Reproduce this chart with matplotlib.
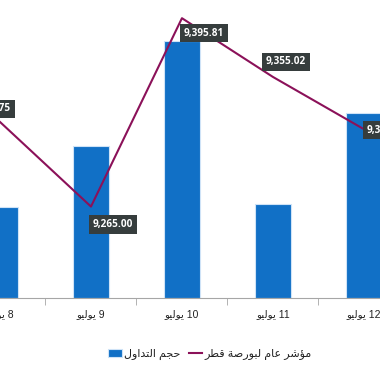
import matplotlib
matplotlib.use("Agg")
import matplotlib.pyplot as plt
from matplotlib.ticker import FixedLocator

# data
days = [8, 9, 10, 11, 12]
volume = [9.1, 15.2, 25.7, 9.4, 18.5]
index_vals = [9323.75, 9265.00, 9395.81, 9355.02, 9318.74]
label_offsets = [(-9, 13), (22, -18), (22, -15), (13, 15), (23, -1)]

MONTH = "يوليو"
VOLUME_LABEL = "حجم التداول"
INDEX_LABEL = "مؤشر عام لبورصة قطر"

BAR_COLOR = "#1170c6"
LINE_COLOR = "#8b1159"

# minimal arabic shaping: (first presentation form, joins to next letter)
BASE = {
    "ا": (0xFE8D, False), "ؤ": (0xFE85, False), "ة": (0xFE93, False),
    "د": (0xFEA9, False), "ر": (0xFEAD, False), "و": (0xFEED, False),
    "ب": (0xFE8F, True), "ت": (0xFE95, True), "ج": (0xFE9D, True),
    "ح": (0xFEA1, True), "ش": (0xFEB5, True), "ص": (0xFEB9, True),
    "ط": (0xFEC1, True), "ع": (0xFEC9, True), "ق": (0xFED5, True),
    "ل": (0xFEDD, True), "م": (0xFEE1, True), "ي": (0xFEF1, True),
}


def shape(text):
    out = []
    for i, ch in enumerate(text):
        if ch not in BASE:
            out.append(ch)
            continue
        base, dual = BASE[ch]
        prev = text[i - 1] if i > 0 else ""
        nxt = text[i + 1] if i + 1 < len(text) else ""
        jp = prev in BASE and BASE[prev][1]
        jn = dual and nxt in BASE
        off = 3 if (jp and jn) else 1 if jp else 2 if jn else 0
        out.append(chr(base + off))
    return "".join(reversed(out))


plt.rcParams["font.family"] = ["Liberation Sans", "DejaVu Sans"]

fig = plt.figure(figsize=(3.8, 3.72), dpi=100)
ax = fig.add_axes([0, 74 / 372, 1, 288 / 372])
ax2 = ax.twinx()

x = list(range(len(days)))
bars = ax.bar(x, volume, width=0.4, color=BAR_COLOR, edgecolor="#cfe3f7",
              linewidth=0.8, label=shape(VOLUME_LABEL))
line, = ax2.plot(x, index_vals, color=LINE_COLOR, lw=1.5, label=shape(INDEX_LABEL))

ax.set_xlim(0.092, 4.177)
ax.set_ylim(0, 28.8)
ax2.set_ylim(9201.5, 9401.5)

for a in (ax, ax2):
    for s in ("top", "left", "right"):
        a.spines[s].set_visible(False)
    a.set_yticks([])
ax2.spines["bottom"].set_visible(False)
ax.spines["bottom"].set_color("#a6a6a6")

ax.set_xticks(x)
ax.set_xticklabels([f"{shape(MONTH)} {d}" for d in days], fontsize=7.5, color="#222222")
ax.tick_params(axis="x", which="major", length=0, pad=8)
ax.xaxis.set_minor_locator(FixedLocator([i + 0.5 for i in range(len(days) - 1)]))
ax.tick_params(axis="x", which="minor", length=5, color="#a6a6a6")

for xi, v, (dx, dy) in zip(x, index_vals, label_offsets):
    ax2.annotate(f"{v:,.2f}", (xi, v), xytext=(dx, dy), textcoords="offset pixels",
                 ha="center", va="center", fontsize=7.2, fontweight="bold", color="white",
                 family="Open Sans",
                 bbox=dict(boxstyle="square,pad=0.38", fc="#363d3d", ec="none"),
                 annotation_clip=False)

fig.legend([bars, line], [shape(VOLUME_LABEL), shape(INDEX_LABEL)],
           loc="center", bbox_to_anchor=(0.553, 0.048), ncol=2, frameon=False,
           fontsize=8, handlelength=1.2, handletextpad=0.2, columnspacing=0.8,
           labelcolor="#222222")

fig.savefig("out.png", dpi=100)
